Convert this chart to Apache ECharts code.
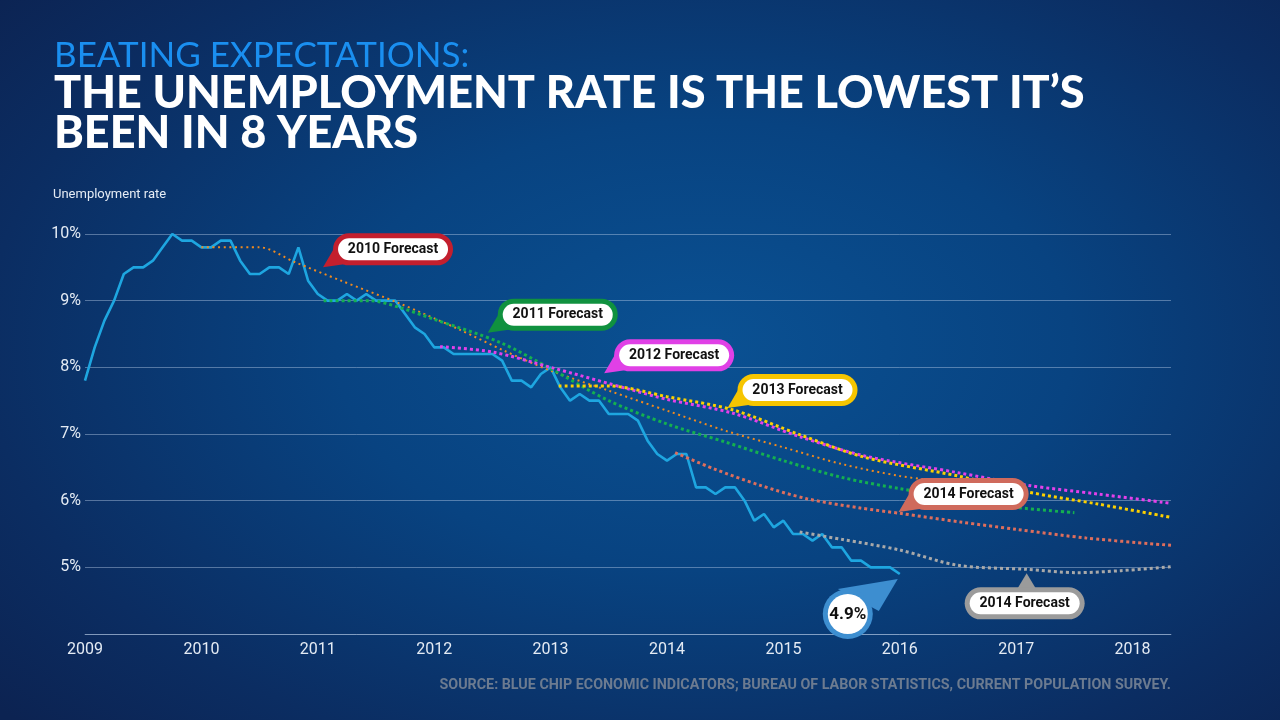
<!DOCTYPE html>
<html><head><meta charset="utf-8">
<script src="https://cdn.jsdelivr.net/npm/echarts@6/dist/echarts.min.js"></script>
<style>
html,body{margin:0;padding:0;width:1280px;height:720px;overflow:hidden;background:#0c2454;}
#c{width:1280px;height:720px;background:radial-gradient(ellipse 72% 78% at 55% 48%, #0a5193 0%, #084381 40%, #0b2d62 78%, #0c2352 100%);}
</style></head><body><div id="c"></div><script>
// ---- data ----
const yearTicks = [2009, 2010, 2011, 2012, 2013, 2014, 2015, 2016, 2017, 2018];
const rateTicks = [5, 6, 7, 8, 9, 10];
// monthly unemployment rate, Jan 2009 .. Jan 2016
const actualRate = [
  7.8, 8.3, 8.7, 9.0, 9.4, 9.5, 9.5, 9.6, 9.8, 10.0, 9.9, 9.9,
  9.8, 9.8, 9.9, 9.9, 9.6, 9.4, 9.4, 9.5, 9.5, 9.4, 9.8, 9.3,
  9.1, 9.0, 9.0, 9.1, 9.0, 9.1, 9.0, 9.0, 9.0, 8.8, 8.6, 8.5,
  8.3, 8.3, 8.2, 8.2, 8.2, 8.2, 8.2, 8.1, 7.8, 7.8, 7.7, 7.9,
  8.0, 7.7, 7.5, 7.6, 7.5, 7.5, 7.3, 7.3, 7.3, 7.2, 6.9, 6.7,
  6.6, 6.7, 6.7, 6.2, 6.2, 6.1, 6.2, 6.2, 6.0, 5.7, 5.8, 5.6,
  5.7, 5.5, 5.5, 5.4, 5.5, 5.3, 5.3, 5.1, 5.1, 5.0, 5.0, 5.0,
  4.9
];
const forecast2010 = [[2010.0,9.8],[2010.5,9.8],[2010.8,9.58],[2011.2,9.3],[2011.7,8.96],[2012.2,8.58],[2012.6,8.25],[2013.0,7.95],[2013.5,7.65],[2014.0,7.35],[2014.5,7.05],[2015.0,6.8],[2015.5,6.55],[2016.0,6.37],[2016.3,6.3]];
const forecast2011 = [[2011.05,9.0],[2011.45,9.0],[2011.7,8.9],[2012.0,8.72],[2012.57,8.37],[2013.0,7.98],[2013.5,7.5],[2014.0,7.15],[2014.5,6.88],[2015.0,6.6],[2015.5,6.35],[2016.0,6.18],[2016.5,6.05],[2017.0,5.9],[2017.5,5.82]];
const forecast2012 = [[2012.05,8.31],[2012.5,8.23],[2013.0,8.0],[2013.7,7.66],[2014.0,7.52],[2014.57,7.31],[2015.14,6.96],[2015.7,6.67],[2016.5,6.42],[2017.1,6.23],[2017.7,6.1],[2018.33,5.96]];
const forecast2013 = [[2013.07,7.72],[2013.5,7.72],[2014.0,7.56],[2014.57,7.36],[2015.14,6.99],[2015.7,6.65],[2016.5,6.37],[2017.1,6.13],[2017.7,5.95],[2018.33,5.75]];
const forecast2014 = [[2014.07,6.72],[2014.4,6.48],[2014.8,6.23],[2015.2,6.03],[2015.66,5.89],[2016.0,5.81],[2016.52,5.68],[2017.0,5.57],[2017.6,5.44],[2018.33,5.33]];
const forecast2015 = [[2015.14,5.53],[2015.5,5.42],[2016.0,5.26],[2016.5,5.03],[2017.09,4.97],[2017.52,4.92],[2017.9,4.95],[2018.33,5.01]];
const calloutLabels = ['2010 Forecast','2011 Forecast','2012 Forecast','2013 Forecast','2014 Forecast','2014 Forecast'];

// ---- styles ----
const forecastStyles = [
  {data: forecast2010, color:'#f08a1e', width:2,   dash:[2,3.6]},
  {data: forecast2011, color:'#14b050', width:3,   dash:[3,3]},
  {data: forecast2012, color:'#e440ea', width:3,   dash:[3,3]},
  {data: forecast2013, color:'#fcd000', width:3,   dash:[3,3]},
  {data: forecast2014, color:'#de6e5c', width:3,   dash:[3,3]},
  {data: forecast2015, color:'#a9a9a9', width:3,   dash:[3,3]}
];
const bubbleColors = ['#c31f2e','#10913f','#e040e6','#f6c500','#cf6a5c','#9b9b9b'];
// annotation anchors (tail tip, data space)
const calloutAnchors = [[2011.045,9.5],[2012.46,8.52],[2013.46,7.91],[2014.52,7.39],[2015.99,5.83],[2017.09,4.91]];

const gridColor = 'rgba(190,210,235,0.42)';
const labelColor = '#e4ebf4';

const chart = echarts.init(document.getElementById('c'), null, {renderer:'canvas'});
const actualData = actualRate.map((v,i)=>[2009 + i/12, v]);

const series = [{
  type:'line', data: actualData, symbol:'none', silent:true, z:2,
  lineStyle:{color:'#1ea6e0', width:2.6}
}].concat(forecastStyles.map(f=>({
  type:'line', data:f.data, symbol:'none', silent:true, z:3, smooth:0.3,
  lineStyle:{color:f.color, width:f.width, type:f.dash, cap:'butt'}
})));

chart.setOption({
  animation:false,
  backgroundColor:'transparent',
  title:[
    {text:'BEATING EXPECTATIONS:', left:49, top:30, textStyle:{color:'#1a8ff0', fontFamily:'Lato', fontWeight:400, fontSize:35, lineHeight:42}},
    {text:"THE UNEMPLOYMENT RATE IS THE LOWEST IT\u2019S\nBEEN IN 8 YEARS", left:49, top:68, textStyle:{color:'#ffffff', fontFamily:'Lato', fontWeight:900, fontSize:45, lineHeight:40}},
    {text:'Unemployment rate', left:48, top:183, textStyle:{color:labelColor, fontFamily:'Roboto', fontWeight:400, fontSize:13}},
    {text:'SOURCE: BLUE CHIP ECONOMIC INDICATORS; BUREAU OF LABOR STATISTICS, CURRENT POPULATION SURVEY.', right:104, top:673, textStyle:{color:'#6c7b90', fontFamily:'Roboto', fontWeight:700, fontSize:14.3}}
  ],
  grid:{left:85, right:109, top:234, bottom:86},
  xAxis:{
    type:'value', min:yearTicks[0], max:2018.33, interval:1,
    axisLine:{show:true, lineStyle:{color:gridColor, width:1}},
    axisTick:{show:false}, splitLine:{show:false},
    axisLabel:{color:labelColor, fontSize:16, fontFamily:'Roboto', margin:8, showMaxLabel:false,
      formatter:v=> yearTicks.includes(v) ? String(v) : ''}
  },
  yAxis:{
    type:'value', min:4, max:rateTicks[rateTicks.length-1], interval:1,
    axisLine:{show:false}, axisTick:{show:false},
    splitLine:{lineStyle:{color:gridColor, width:1}},
    axisLabel:{color:labelColor, fontSize:16, fontFamily:'Roboto', margin:4, showMinLabel:false,
      formatter:v=> rateTicks.includes(v) ? v + '%' : ''}
  },
  series
});

// ---- callouts ----
const Z = 100;
function bubbleDown(p, color, label){
  const tx=p[0], ty=p[1];
  return {type:'group', silent:true, children:[
    {type:'polygon', z:Z, shape:{points:[[tx,ty],[tx+14,ty-24],[tx+28,ty-4]]}, style:{fill:color}},
    {type:'rect', z:Z, shape:{x:tx+10,y:ty-34,width:120,height:32,r:16}, style:{fill:color}},
    {type:'rect', z:Z+1, shape:{x:tx+15,y:ty-29,width:110,height:22,r:11}, style:{fill:'#ffffff'}},
    {type:'text', z:Z+2, style:{x:tx+70,y:ty-18,text:label,align:'center',verticalAlign:'middle',fontFamily:'Roboto',fontWeight:700,fontSize:14,fill:'#111111'}}
  ]};
}
function bubbleUp(p, color, label){
  const tx=p[0], ty=p[1];
  return {type:'group', silent:true, children:[
    {type:'polygon', z:Z, shape:{points:[[tx,ty],[tx-9,ty+15],[tx+9,ty+15]]}, style:{fill:color}},
    {type:'rect', z:Z, shape:{x:tx-62,y:ty+14,width:120,height:32,r:16}, style:{fill:color}},
    {type:'rect', z:Z+1, shape:{x:tx-57,y:ty+19,width:110,height:22,r:11}, style:{fill:'#ffffff'}},
    {type:'text', z:Z+2, style:{x:tx-2,y:ty+30,text:label,align:'center',verticalAlign:'middle',fontFamily:'Roboto',fontWeight:700,fontSize:14,fill:'#111111'}}
  ]};
}
function circleCallout(p, color, label){
  const tx=p[0]-2, ty=p[1]+5;
  const cx=tx-50, cy=ty+35;
  return {type:'group', silent:true, children:[
    {type:'polygon', z:Z, shape:{points:[[tx,ty],[tx-60,ty+10],[tx-19,ty+32]]}, style:{fill:color}},
    {type:'circle', z:Z, shape:{cx:cx,cy:cy,r:25}, style:{fill:color}},
    {type:'circle', z:Z+1, shape:{cx:cx,cy:cy,r:20}, style:{fill:'#ffffff'}},
    {type:'text', z:Z+2, style:{x:cx,y:cy+1,text:label,align:'center',verticalAlign:'middle',fontFamily:'Roboto',fontWeight:700,fontSize:17,fill:'#111111'}}
  ]};
}
const graphics = [];
calloutAnchors.forEach((a,i)=>{
  const px = chart.convertToPixel({gridIndex:0}, a);
  graphics.push(i < 5 ? bubbleDown(px, bubbleColors[i], calloutLabels[i]) : bubbleUp(px, bubbleColors[i], calloutLabels[i]));
});
const last = actualData[actualData.length-1];
graphics.push(circleCallout(chart.convertToPixel({gridIndex:0}, last), '#3d8ed0', last[1].toFixed(1) + '%'));
chart.setOption({graphic: graphics});
</script></body></html>
